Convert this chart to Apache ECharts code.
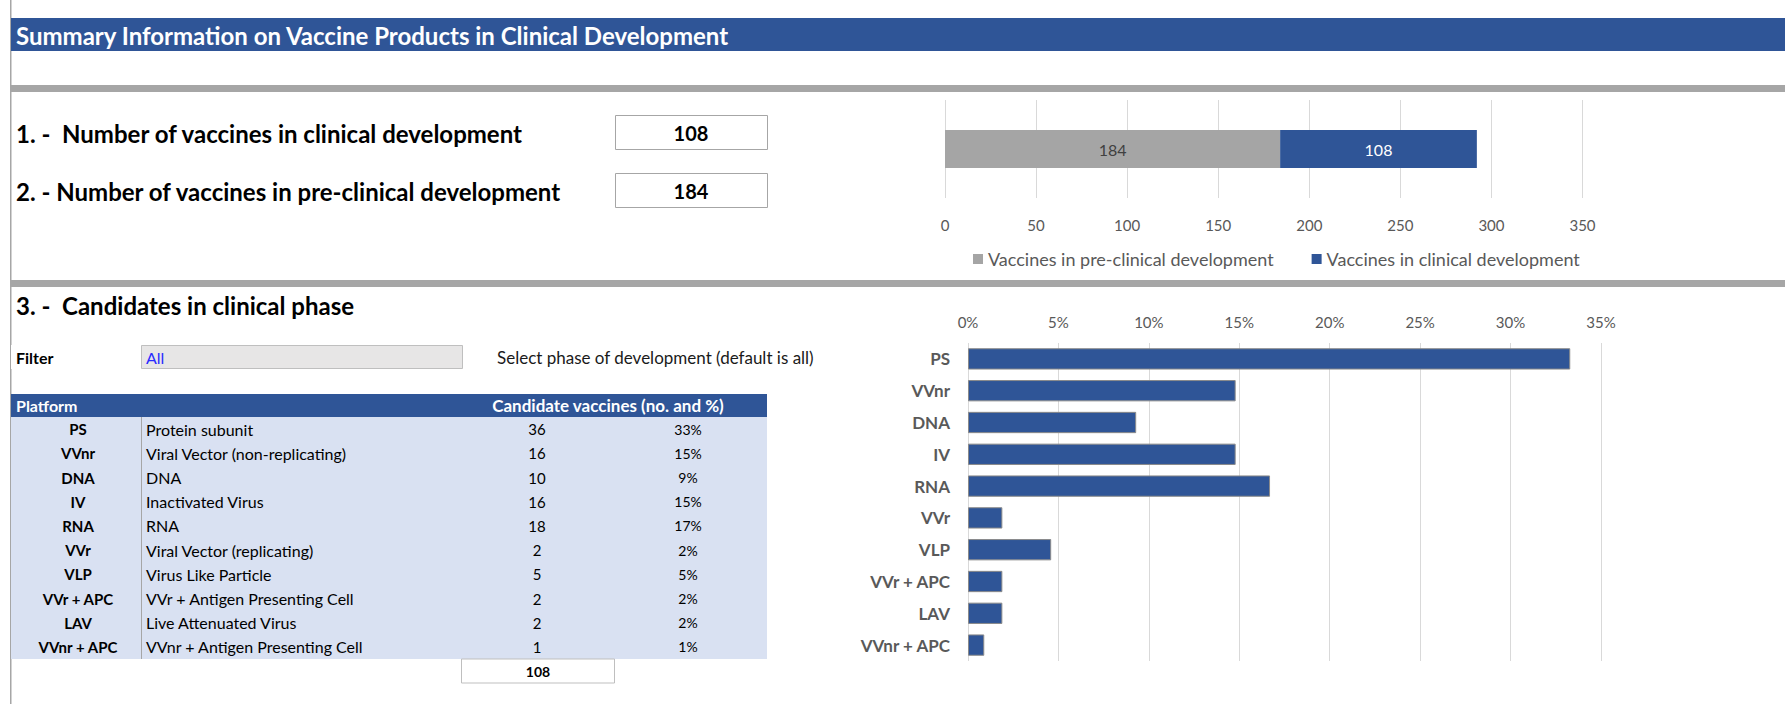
<!DOCTYPE html>
<html>
<head>
<meta charset="utf-8">
<script src="https://cdn.jsdelivr.net/npm/echarts@6/dist/echarts.min.js"></script>
<style>
html,body{margin:0;padding:0;background:#fff;}
#box{width:1785px;height:704px;}
</style>
</head>
<body>
<div id="box"></div>
<script>
// 数据
var pageTitle = 'Summary Information on Vaccine Products in Clinical Development';
var kpiLabels = ['1. -  Number of vaccines in clinical development', '2. - Number of vaccines in pre-clinical development'];
var kpiValues = [108, 184];

var stackNames = ['Vaccines in pre-clinical development', 'Vaccines in clinical development'];
var stackValues = [184, 108];
var stackTicks = [0, 50, 100, 150, 200, 250, 300, 350];

var platCodes = ['PS', 'VVnr', 'DNA', 'IV', 'RNA', 'VVr', 'VLP', 'VVr + APC', 'LAV', 'VVnr + APC'];
var platNames = ['Protein subunit', 'Viral Vector (non-replicating)', 'DNA', 'Inactivated Virus', 'RNA',
    'Viral Vector (replicating)', 'Virus Like Particle', 'VVr + Antigen Presenting Cell',
    'Live Attenuated Virus', 'VVnr + Antigen Presenting Cell'];
var platCounts = [36, 16, 10, 16, 18, 2, 5, 2, 2, 1];
var platPctLabels = ['33%', '15%', '9%', '15%', '17%', '2%', '5%', '2%', '2%', '1%'];
var platShare = [33.3, 14.8, 9.3, 14.8, 16.7, 1.9, 4.6, 1.9, 1.9, 0.9];
var totalCount = 108;
var pctTicks = [0, 5, 10, 15, 20, 25, 30, 35];

var BLUE = '#2f5597', GREY = '#a5a5a5', FONT = 'Lato, sans-serif';

var myChart = echarts.init(document.getElementById('box'), null, {renderer: 'svg'});

var g = [];
function rect(x, y, w, h, fill, stroke, lw) {
    g.push({type: 'rect', shape: {x: x, y: y, width: w, height: h}, silent: true,
        style: {fill: fill, stroke: stroke || null, lineWidth: lw || 0}});
}
function txt(x, y, s, size, color, weight, align) {
    g.push({type: 'text', x: x, y: y, silent: true, style: {
        text: s, fill: color, font: (weight || 'normal') + ' ' + size + 'px ' + FONT,
        textAlign: align || 'left', textVerticalAlign: 'middle', align: align || 'left', verticalAlign: 'middle'}});
}

// 页面框架
rect(10, 0, 1.5, 704, '#a6a6a6');
rect(11, 18, 1774, 33, BLUE);
txt(16, 35, pageTitle, 24, '#fff', 'bold');
rect(11, 85, 1774, 7, '#a6a6a6');
rect(11, 280, 1774, 7, '#a6a6a6');

// 1, 2
kpiLabels.forEach(function(s, i) {
    var cy = 133 + i * 58;
    txt(16, cy, s, 24, '#000', 'bold');
    rect(615.5, cy - 17.5, 152, 34, '#fff', '#a6a6a6', 1);
    txt(691, cy, String(kpiValues[i]), 20, '#000', 'bold', 'center');
});

// 3
txt(16, 305, '3. -  Candidates in clinical phase', 24, '#000', 'bold');
rect(11, 345, 130, 24, '#fff');
rect(141.5, 345.5, 321, 23, '#e7e6e6', '#bfbfbf', 1);
txt(16, 357, 'Filter', 16, '#000', 'bold');
txt(146, 357, 'All', 16, '#2a2aff');
txt(497, 357, 'Select phase of development (default is all)', 17, '#1a1a1a');

// 表格
var rowH = 24.2, top0 = 417;
rect(11, 394, 756, 23, BLUE);
txt(16, 405.5, 'Platform', 16, '#fff', 'bold');
txt(608, 405.5, 'Candidate vaccines (no. and %)', 17, '#fff', 'bold', 'center');
rect(11, top0, 756, rowH * platCodes.length, '#d9e1f2');
rect(141, top0, 1, rowH * platCodes.length, '#a6a6a6');
platCodes.forEach(function(c, i) {
    var cy = top0 + rowH * (i + 0.5);
    txt(78, cy, c, 15, '#000', 'bold', 'center');
    txt(146, cy, platNames[i], 16, '#000');
    txt(537, cy, String(platCounts[i]), 15, '#000', 'normal', 'center');
    txt(688, cy, platPctLabels[i], 14, '#000', 'normal', 'center');
});
var tb = top0 + rowH * platCodes.length;
rect(461.5, tb, 153, 24, '#fff', '#bfbfbf', 1);
txt(538, tb + 12, String(totalCount), 14, '#000', 'bold', 'center');

var option = {
    animation: false,
    textStyle: {fontFamily: FONT},
    graphic: {elements: g},
    legend: {
        left: 968, top: 245, itemWidth: 10, itemHeight: 10, itemGap: 38,
        icon: 'rect', data: stackNames,
        textStyle: {color: '#595959', fontSize: 18, fontFamily: FONT}
    },
    grid: [
        {left: 945, top: 100, width: 637.5, height: 98, containLabel: false},
        {left: 968, top: 343, width: 633, height: 318, containLabel: false}
    ],
    xAxis: [{
        gridIndex: 0, type: 'value', min: stackTicks[0], max: stackTicks[stackTicks.length - 1], interval: 50,
        axisLine: {show: false}, axisTick: {show: false},
        splitLine: {lineStyle: {color: '#d9d9d9'}},
        axisLabel: {color: '#595959', fontSize: 15, margin: 19}
    }, {
        gridIndex: 1, type: 'value', position: 'top', min: pctTicks[0], max: pctTicks[pctTicks.length - 1], interval: 5,
        axisLine: {show: false}, axisTick: {show: false},
        splitLine: {lineStyle: {color: '#d9d9d9'}},
        axisLabel: {color: '#595959', fontSize: 15, margin: 14, formatter: '{value}%'}
    }],
    yAxis: [{
        gridIndex: 0, type: 'category', data: [''], show: false
    }, {
        gridIndex: 1, type: 'category', data: platCodes, inverse: true,
        axisLine: {show: false}, axisTick: {show: false},
        axisLabel: {color: '#595959', fontSize: 17, fontWeight: 'bold', margin: 18}
    }],
    series: [{
        name: stackNames[0], type: 'bar', stack: 'a', xAxisIndex: 0, yAxisIndex: 0,
        barWidth: 38, data: [stackValues[0]],
        itemStyle: {color: GREY},
        label: {show: true, position: 'inside', color: '#404040', fontSize: 16}
    }, {
        name: stackNames[1], type: 'bar', stack: 'a', xAxisIndex: 0, yAxisIndex: 0,
        barWidth: 38, data: [stackValues[1]],
        itemStyle: {color: BLUE},
        label: {show: true, position: 'inside', color: '#fff', fontSize: 16}
    }, {
        name: 'share', type: 'bar', xAxisIndex: 1, yAxisIndex: 1,
        barWidth: '67%', data: platShare,
        itemStyle: {color: BLUE, borderColor: '#8a8a8a', borderWidth: 1}
    }]
};

myChart.setOption(option);
</script>
</body>
</html>
